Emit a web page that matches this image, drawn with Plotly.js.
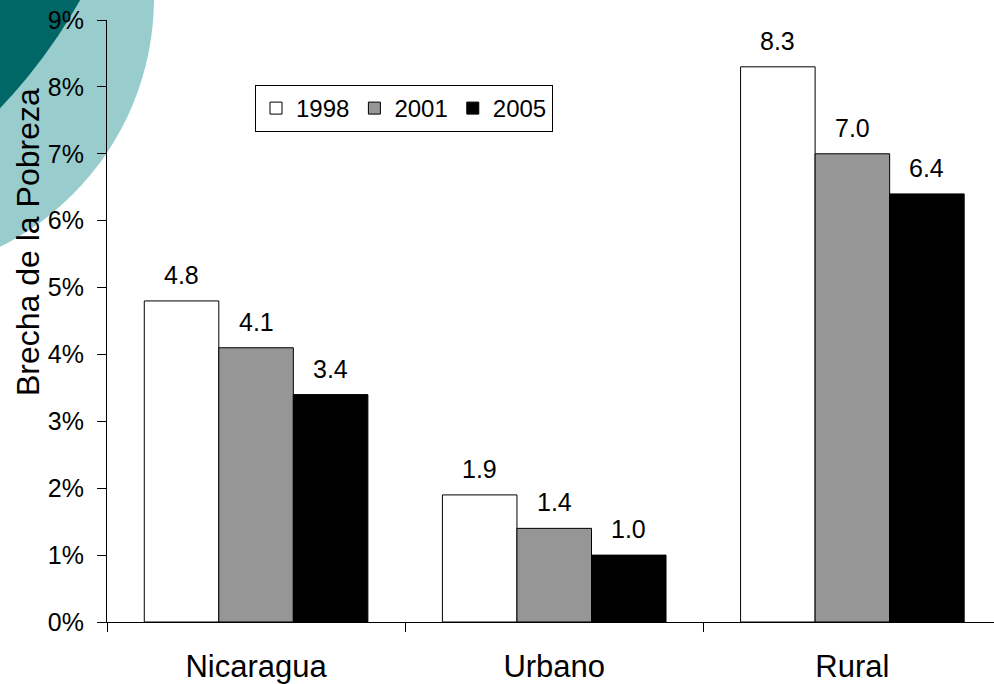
<!DOCTYPE html>
<html>
<head>
<meta charset="utf-8">
<script src="https://cdn.plot.ly/plotly-3.0.1.min.js"></script>
<style>html,body{margin:0;padding:0;background:#fff;}#chart{width:994px;height:684px;}</style>
</head>
<body>
<div id="chart"></div>
<script>
// ---- data ----
const categories = ["Nicaragua", "Urbano", "Rural"];
const years = ["1998", "2001", "2005"];
const values1998 = [4.8, 1.9, 8.3];
const values2001 = [4.1, 1.4, 7.0];
const values2005 = [3.4, 1.0, 6.4];
const yTickVals = [0, 1, 2, 3, 4, 5, 6, 7, 8, 9];
const yTickText = ["0%", "1%", "2%", "3%", "4%", "5%", "6%", "7%", "8%", "9%"];
const yTitle = "Brecha de la Pobreza";

// ---- styling ----
const FONT = "Arial, 'Liberation Sans', sans-serif";
const fills = ["#ffffff", "#969696", "#000000"];
const series = [values1998, values2001, values2005];

const W = 994, H = 684;
const M = {l: 107, r: 0, t: 20, b: 62};
const pw = W - M.l - M.r, ph = H - M.t - M.b;
const px2paperX = px => (px - M.l) / pw;
const px2paperY = py => (H - M.b - py) / ph;

const traces = series.map((vals, i) => ({
  type: "bar",
  name: years[i],
  x: categories,
  y: vals,
  marker: {color: fills[i], line: {color: "#000", width: 1}},
  hoverinfo: "skip"
}));

// value labels placed above each bar
const annotations = [];
const offsets = [-0.25, 0, 0.25];
series.forEach((vals, i) => {
  vals.forEach((v, j) => {
    annotations.push({
      xref: "x", yref: "y", x: j + offsets[i], y: v,
      text: v.toFixed(1), showarrow: false,
      xanchor: "center", yanchor: "bottom", yshift: 10,
      font: {family: FONT, size: 25, color: "#000"}
    });
  });
});
annotations.push({
  xref: "paper", yref: "paper",
  x: px2paperX(28), y: px2paperY(242),
  xanchor: "center", yanchor: "middle",
  text: yTitle, textangle: -90, showarrow: false,
  font: {family: FONT, size: 32, color: "#000"}
});

// decorative background circles (pixel geometry -> paper)
function circle(cx, cy, r, color) {
  return {
    type: "circle", xref: "paper", yref: "paper", layer: "below",
    x0: px2paperX(cx - r), x1: px2paperX(cx + r),
    y0: px2paperY(cy + r), y1: px2paperY(cy - r),
    fillcolor: color, line: {width: 0}
  };
}
const shapes = [
  circle(-124, -2, 278, "#99cccc"),
  circle(-384, -260, 532, "#006666")
];

const layout = {
  width: W, height: H,
  margin: M,
  paper_bgcolor: "#fff",
  plot_bgcolor: "rgba(0,0,0,0)",
  barmode: "group",
  bargap: 0.25,
  bargroupgap: 0,
  font: {family: FONT, color: "#000"},
  showlegend: true,
  legend: {
    orientation: "h",
    x: px2paperX(255), y: px2paperY(85),
    xanchor: "left", yanchor: "top",
    bgcolor: "#fff", bordercolor: "#000", borderwidth: 1,
    font: {family: FONT, size: 24, color: "#000"},
    traceorder: "normal"
  },
  xaxis: {
    type: "category",
    range: [-0.5, 2.475],
    showline: true, linecolor: "#000", linewidth: 1,
    ticks: "outside", tickson: "boundaries", ticklen: 9, tickcolor: "#000", tickwidth: 1,
    showgrid: false, zeroline: false,
    tickfont: {family: FONT, size: 31, color: "#000"},
    ticklabelstandoff: 17,
    fixedrange: true
  },
  yaxis: {
    range: [0, 9],
    tickmode: "array",
    tickvals: yTickVals,
    ticktext: yTickText,
    showline: true, linecolor: "#000", linewidth: 1,
    ticks: "outside", ticklen: 9, tickcolor: "#000", tickwidth: 1,
    showgrid: false, zeroline: false,
    tickfont: {family: FONT, size: 25, color: "#000"},
    ticklabelstandoff: 8,
    fixedrange: true
  },
  annotations: annotations,
  shapes: shapes
};

Plotly.newPlot("chart", traces, layout, {displayModeBar: false, staticPlot: true});
</script>
</body>
</html>
